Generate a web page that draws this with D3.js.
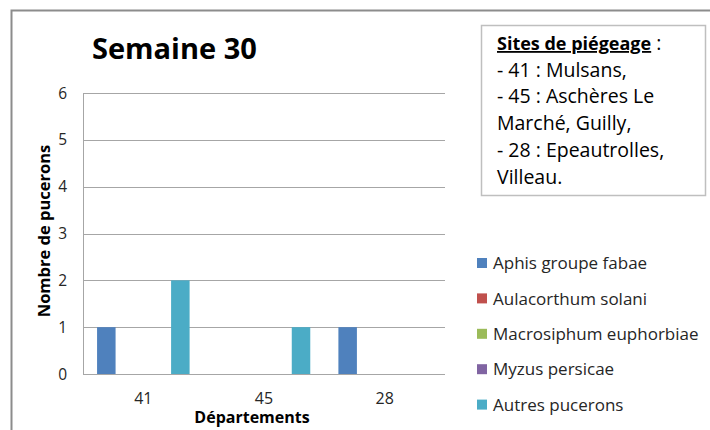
<!DOCTYPE html>
<html>
<head>
<meta charset="utf-8">
<script src="https://cdn.jsdelivr.net/npm/d3@7"></script>
<style>
    body { margin: 0; background: #fff; }
    svg text { font-family: "Open Sans", sans-serif; }
</style>
</head>
<body>
<svg id="chart" width="710" height="430"></svg>
<script>
// departements on the x axis
const departements = ['41', '45', '28']

// one array per aphid group
const aphisFabae = [1, 0, 1]
const aulacorthumSolani = [0, 0, 0]
const macrosiphumEuphorbiae = [0, 0, 0]
const myzusPersicae = [0, 0, 0]
const autresPucerons = [2, 1, 0]

const seriesNames = ['Aphis groupe fabae', 'Aulacorthum solani', 'Macrosiphum euphorbiae', 'Myzus persicae', 'Autres pucerons']
const seriesValues = [aphisFabae, aulacorthumSolani, macrosiphumEuphorbiae, myzusPersicae, autresPucerons]
const seriesColors = ['#4F81BD', '#C0504D', '#9BBB59', '#8064A2', '#4BACC6']

const yTicks = [0, 1, 2, 3, 4, 5, 6]

const siteLines = [
    '- 41 : Mulsans,',
    '- 45 : Aschères Le',
    'Marché, Guilly,',
    '- 28 : Epeautrolles,',
    'Villeau.'
]

const svg = d3.select('#chart')

const plot = { left: 83, right: 445, top: 93, bottom: 374 }

// outer chart frame
svg.append('path')
    .attr('d', `M11.5,432 L11.5,10.5 L712,10.5`)
    .attr('fill', 'none')
    .attr('stroke', '#8c8c8c')
    .attr('stroke-width', 2)

svg.append('text')
    .attr('x', 92)
    .attr('y', 59)
    .attr('font-size', 29)
    .attr('font-weight', 'bold')
    .attr('fill', '#000')
    .text('Semaine 30')

const x0 = d3.scaleBand()
    .domain(departements)
    .range([plot.left, plot.right])

const x1 = d3.scaleBand()
    .domain(seriesNames)
    .range([0, x0.bandwidth()])
    .paddingOuter(0.76)

const y = d3.scaleLinear()
    .domain([0, 6])
    .range([plot.bottom, plot.top])

// gridlines
svg.append('g')
    .selectAll('line')
    .data(yTicks)
    .enter().append('line')
    .attr('x1', plot.left)
    .attr('x2', plot.right)
    .attr('y1', (d) => Math.round(y(d)) + 0.5)
    .attr('y2', (d) => Math.round(y(d)) + 0.5)
    .attr('stroke', '#a6a6a6')
    .attr('stroke-width', 1)

svg.append('line')
    .attr('x1', plot.left + 0.5)
    .attr('x2', plot.left + 0.5)
    .attr('y1', plot.top)
    .attr('y2', plot.bottom)
    .attr('stroke', '#a6a6a6')

// y tick labels
svg.append('g')
    .selectAll('text')
    .data(yTicks)
    .enter().append('text')
    .attr('x', 67)
    .attr('y', (d) => y(d))
    .attr('dy', '0.36em')
    .attr('text-anchor', 'end')
    .attr('font-size', 15.5)
    .attr('fill', '#262626')
    .text((d) => d)

// bars
const groups = svg.append('g')
    .selectAll('g')
    .data(departements)
    .enter().append('g')
    .attr('transform', (d) => `translate(${x0(d)},0)`)

groups.selectAll('rect')
    .data((d, i) => seriesNames.map((name, s) => ({ name: name, value: seriesValues[s][i], color: seriesColors[s] })))
    .enter().append('rect')
    .attr('x', (d) => x1(d.name))
    .attr('width', x1.bandwidth())
    .attr('y', (d) => y(d.value))
    .attr('height', (d) => y(0) - y(d.value))
    .attr('fill', (d) => d.color)

// x tick labels
svg.append('g')
    .selectAll('text')
    .data(departements)
    .enter().append('text')
    .attr('x', (d) => x0(d) + x0.bandwidth() / 2)
    .attr('y', 403.5)
    .attr('text-anchor', 'middle')
    .attr('font-size', 16)
    .attr('fill', '#262626')
    .text((d) => d)

svg.append('text')
    .attr('x', 252)
    .attr('y', 422.5)
    .attr('text-anchor', 'middle')
    .attr('font-size', 16)
    .attr('font-weight', 'bold')
    .attr('fill', '#000')
    .text('Départements')

svg.append('text')
    .attr('transform', `translate(50,231) rotate(-90)`)
    .attr('text-anchor', 'middle')
    .attr('font-size', 16.5)
    .attr('font-weight', 'bold')
    .attr('fill', '#000')
    .text('Nombre de pucerons')

// sites text box
svg.append('rect')
    .attr('x', 481.5)
    .attr('y', 25.5)
    .attr('width', 224)
    .attr('height', 170)
    .attr('fill', '#fff')
    .attr('stroke', '#bfbfbf')
    .attr('stroke-width', 1.5)

const box = svg.append('text')
    .attr('x', 497)
    .attr('font-size', 19.5)
    .attr('fill', '#000')

box.append('tspan')
    .attr('x', 497)
    .attr('y', 50)
    .attr('font-size', 18)
    .attr('font-weight', 'bold')
    .attr('text-decoration', 'underline')
    .text('Sites de piégeage')
box.append('tspan')
    .text(' :')

siteLines.forEach((line, i) => {
    box.append('tspan')
        .attr('x', 497)
        .attr('y', 50 + (i + 1) * 26.7)
        .text(line)
})

// legend
const legend = svg.append('g')
    .selectAll('g')
    .data(seriesNames)
    .enter().append('g')
    .attr('transform', (d, i) => `translate(477,${263 + i * 35.4})`)

legend.append('rect')
    .attr('x', 0)
    .attr('y', -5)
    .attr('width', 10)
    .attr('height', 10)
    .attr('fill', (d, i) => seriesColors[i])

legend.append('text')
    .attr('x', 16)
    .attr('dy', '0.36em')
    .attr('font-size', 17)
    .attr('fill', '#262626')
    .text((d) => d)
</script>
</body>
</html>
